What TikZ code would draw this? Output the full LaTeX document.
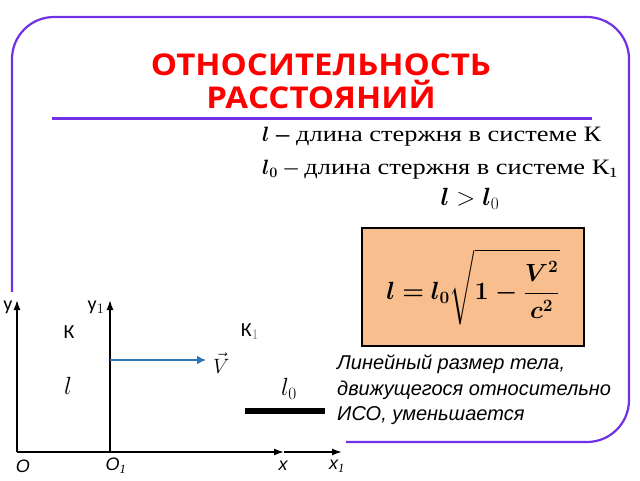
\documentclass[tikz,border=0pt]{standalone}
\usepackage{fontspec}
\usepackage{amsmath}
\usepackage{bm}
\setmainfont{Liberation Serif}
\setsansfont{Liberation Sans}
\newfontfamily\headfont[FakeStretch=1.1]{Open Sans}
\newfontfamily\deffont[FakeStretch=1.2]{Liberation Serif}
\newfontfamily\axisfont{Carlito}
\usetikzlibrary{arrows.meta,positioning}
\definecolor{framepurple}{RGB}{112,48,230}
\definecolor{boxorange}{RGB}{248,190,142}
\definecolor{arrowblue}{RGB}{46,117,182}
\newcommand{\fsz}[2]{\fontsize{#1}{#2}\selectfont}

\begin{document}
\begin{tikzpicture}[
    x=1pt, y=-1pt,
    every node/.style={inner sep=0pt},
    heading/.style={font=\headfont\bfseries\fsz{30}{33}, text=red, align=center},
    deftext/.style={font=\deffont\fsz{22}{25}, anchor=west},
    axis/.style={line width=1.6pt, -{Latex[length=10pt,width=7pt]}},
    axlabel/.style={font=\axisfont\fsz{20}{24}},
    originlabel/.style={font=\sffamily\itshape\fsz{18}{22}},
    formulabox/.style={draw, line width=2pt, fill=boxorange, minimum width=222pt, minimum height=118pt},
    note/.style={font=\sffamily\itshape\fsz{20}{25.5}, align=left, anchor=north west}
]
\useasboundingbox (0,0) rectangle (640,480);

% Frame and heading
\draw[framepurple, line width=2.2pt, rounded corners=42pt] (12,17) rectangle (629,442);
\fill[white] (0,292) rectangle (346,480);
\node[heading] (title) at (321,81) {ОТНОСИТЕЛЬНОСТЬ\\РАССТОЯНИЙ};
\coordinate (ruleL) at (52,118);
\coordinate (ruleR) at (592,118);
\draw[framepurple, line width=3pt] (ruleL) -- (ruleR);

% Definitions
\node[deftext] (def1) at (262,137) {$\bm{l}$ \textbf{–} длина стержня в системе К};
\node[deftext] (def2) at (262,170) {$\bm{l_0}$ – длина стержня в системе К$_{\bm{1}}$};
\node[font=\fsz{23}{26}] (ineq) at (470,199) {$\bm{l} > \bm{l}_0$};

% Formula
\node[formulabox] (formula) at (473,287) {\fsz{23}{28}$\displaystyle\bm{l = l_0\sqrt{1-\frac{V^2}{c^2}}}$};
\node[note] (text) at (337,355) {Линейный размер тела,\\движущегося относительно\\ИСО, уменьшается};

% Axes
\coordinate (O) at (17,452);
\coordinate (yTop) at (17,300);
\coordinate (O1) at (110,452);
\coordinate (y1Top) at (110,300);
\coordinate (xTip) at (284,452);
\coordinate (x1Tip) at (342,452);
\draw[axis] (O) -- (yTop);
\draw[axis] (O1) -- (y1Top);
\draw[axis] (O) -- (xTip);
\draw[axis] (xTip) -- (x1Tip);

\node[axlabel] (ylab) at (8,307) {y};
\node[axlabel] (y1lab) at (96,307) {y$_1$};
\node[originlabel] (olab) at (23,466) {O};
\node[originlabel] (o1lab) at (116,466) {O$_{\mathit 1}$};
\node[originlabel] (xlab) at (283,466) {x};
\node[originlabel] (x1lab) at (337,466) {x$_{\mathit 1}$};
\node[axlabel] (K) at (69,332) {К};
\node[axlabel] (K1) at (250,332) {К$_{\textcolor{gray}{1}}$};

% Velocity and rod
\coordinate (vStart) at (110,360);
\coordinate (vEnd) at (206,360);
\draw[arrowblue, line width=2.5pt, -{Latex[length=9pt,width=9pt]}] (vStart) -- (vEnd);
\node[font=\fsz{21}{24}, right=7pt of vEnd, yshift=-3pt] (V) {$\vec{V}$};
\node[font=\fsz{27}{30}] (len) at (68,386) {$l$};
\node[font=\fsz{27}{30}] (len0) at (289,389) {$l_0$};
\coordinate (rodL) at (245,411);
\coordinate (rodR) at (325,411);
\draw[line width=6pt] (rodL) -- (rodR);

\end{tikzpicture}
\end{document}
